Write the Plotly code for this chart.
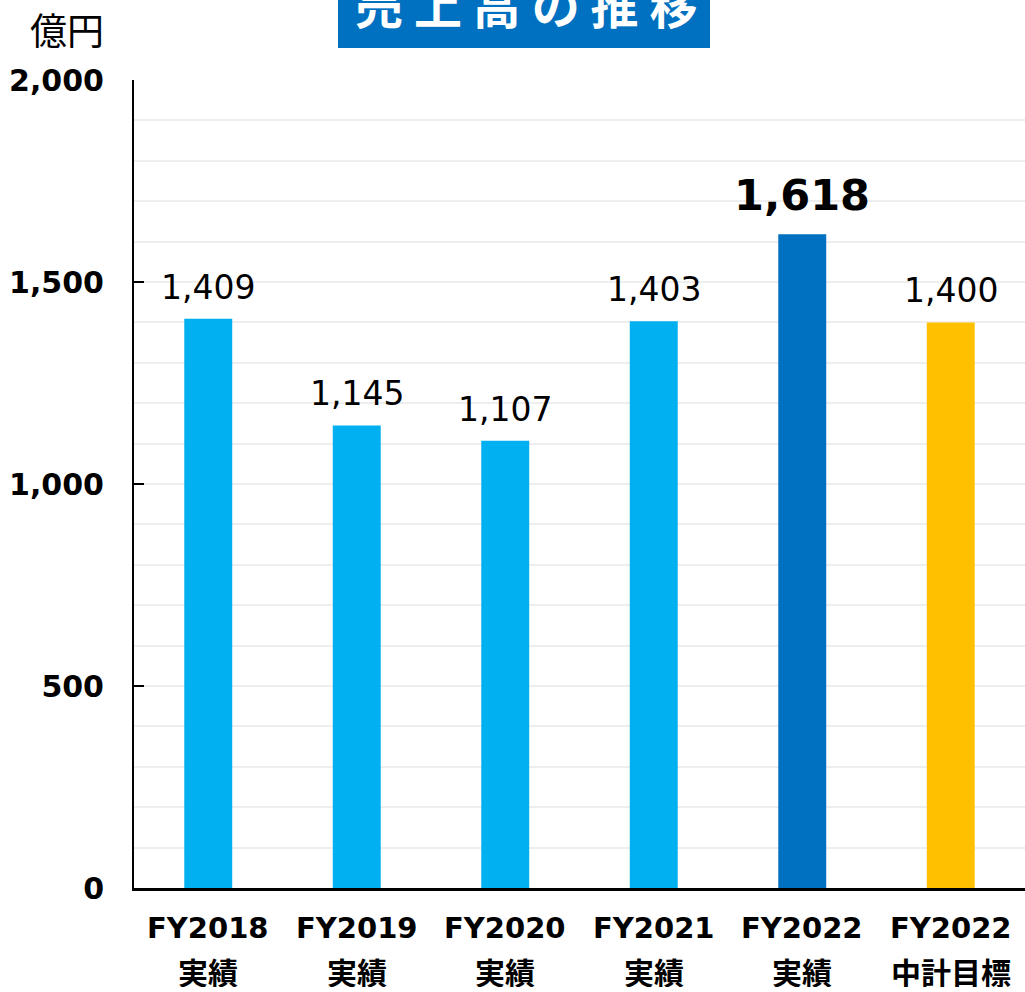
import plotly.graph_objects as go

fiscal_years = ["FY2018", "FY2019", "FY2020", "FY2021", "FY2022", "FY2022"]
kinds = ["実績", "実績", "実績", "実績", "実績", "中計目標"]
categories = [f"{fy} {k}" for fy, k in zip(fiscal_years, kinds)]
values = [1409, 1145, 1107, 1403, 1618, 1400]
bar_colors = ["#00B0F0", "#00B0F0", "#00B0F0", "#00B0F0", "#0070C0", "#FFC000"]
label_text = ["1,409", "1,145", "1,107", "1,403", "1,618", "1,400"]
y_ticks = [0, 500, 1000, 1500, 2000]
y_tick_labels = ["0", "500", "1,000", "1,500", "2,000"]

fig = go.Figure()
fig.add_trace(go.Bar(
    x=categories, y=values,
    marker=dict(color=bar_colors, line=dict(width=0)),
    hoverinfo="skip",
))

for i, (c, v, t) in enumerate(zip(categories, values, label_text)):
    highlight = (i == 4)
    fig.add_annotation(
        x=c, y=v, xref="x", yref="y", text=t, showarrow=False,
        yanchor="bottom", yshift=12 if highlight else 10,
        font=dict(family="DejaVu Sans", size=43 if highlight else 33, color="#000000",
                  weight="bold" if highlight else "normal"),
    )

# category labels, two lines
for c, fy, k in zip(categories, fiscal_years, kinds):
    fig.add_annotation(x=c, xref="x", yref="paper", y=(888 - 928) / 808, text=fy,
                       showarrow=False, xanchor="center", yanchor="middle",
                       font=dict(family="DejaVu Sans", size=29, color="#000000", weight="bold"))
    fig.add_annotation(x=c, xref="x", yref="paper", y=(888 - 971) / 808, text=k,
                       showarrow=False, xanchor="center", yanchor="middle", height=32,
                       font=dict(family="Noto Sans CJK JP", size=30, color="#000000", weight="bold"))

# title box
fig.add_shape(type="rect", xref="paper", yref="paper",
              x0=(338 - 134) / 891, x1=(710 - 134) / 891,
              y0=(888 - 48) / 808, y1=1.2,
              fillcolor="#0070C0", line=dict(width=0), layer="above")
fig.add_annotation(xref="paper", yref="paper", x=(526 - 134) / 891, y=(888 - 3) / 808,
                   text="売 上 高 の 推 移", showarrow=False, xanchor="center", yanchor="middle",
                   font=dict(family="Noto Sans CJK JP", size=48, color="#FFFFFF", weight="bold"))
fig.add_annotation(xref="paper", yref="paper", x=(67 - 134) / 891, y=(888 - 29) / 808,
                   text="億円", showarrow=False, xanchor="center", yanchor="middle",
                   font=dict(family="Noto Sans CJK JP", size=37, color="#000000"))

fig.update_layout(
    width=1025, height=992,
    margin=dict(l=134, r=0, t=80, b=104),
    paper_bgcolor="white", plot_bgcolor="white",
    showlegend=False,
    bargap=0.677,
)
fig.update_xaxes(
    showline=True, linecolor="#000000", linewidth=3,
    showgrid=False, ticks="", showticklabels=False,
)
fig.update_yaxes(
    range=[0, 2000], autorange=False,
    tickvals=y_ticks, ticktext=y_tick_labels,
    showline=True, linecolor="#000000", linewidth=2,
    ticks="inside", ticklen=10, tickwidth=2, tickcolor="#000000",
    ticklabelstandoff=22,
    showgrid=False, zeroline=False,
    minor=dict(dtick=100, showgrid=True, gridcolor="#EEEEEE", gridwidth=2, ticks=""),
    tickfont=dict(family="DejaVu Sans", size=30, color="#000000", weight="bold"),
)

fig.write_html("out.html", config={"displayModeBar": False},
               post_script="document.body.style.margin='0';document.body.style.overflow='hidden';")
